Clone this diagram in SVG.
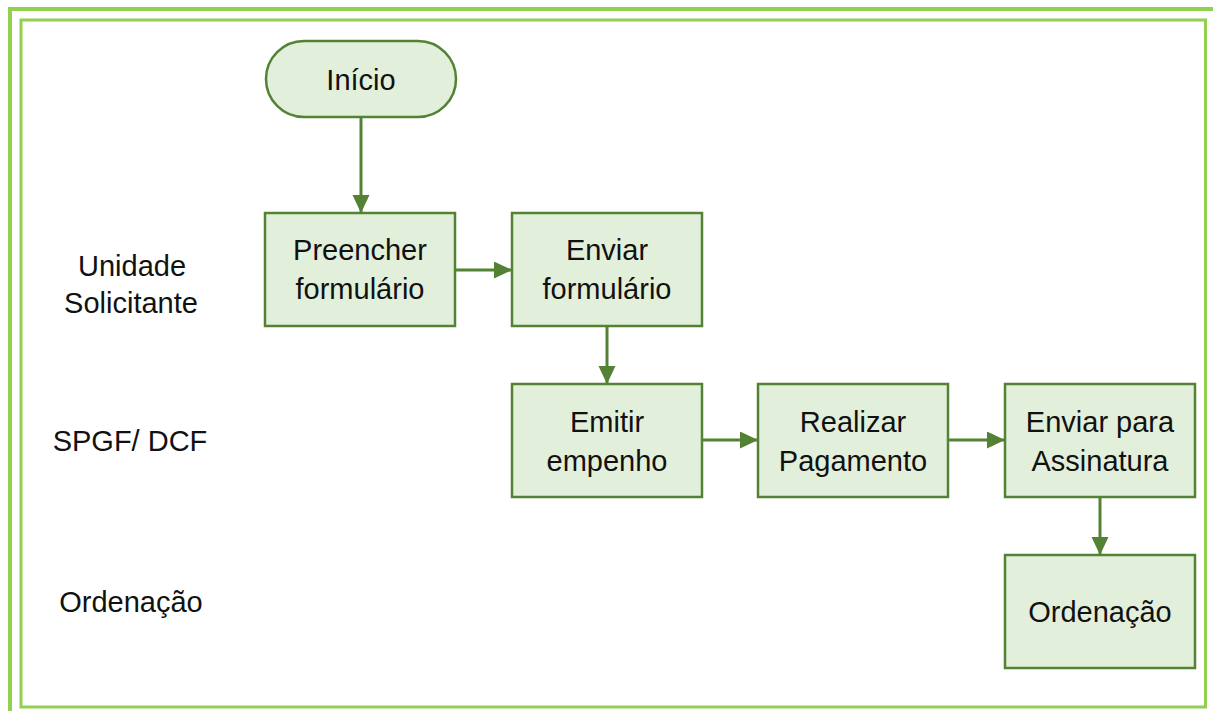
<svg xmlns="http://www.w3.org/2000/svg" width="1213" height="711" viewBox="0 0 1213 711">
<style>
.frame{fill:none;stroke:#92d050}
.node{fill:#e2efda;stroke:#548235;stroke-width:2.5}
.lbl{font-family:"Liberation Sans",Arial,sans-serif;font-size:29px;fill:#111;text-anchor:middle}
.conn{stroke:#548235;stroke-width:3;fill:none}
</style>
<defs>
<marker id="ah" markerUnits="userSpaceOnUse" markerWidth="20" markerHeight="18" refX="18" refY="8.5" orient="auto">
<path d="M0,0 L18,8.5 L0,17 Z" fill="#548235"/>
</marker>
</defs>
<rect width="1213" height="711" fill="#fff"/>
<rect class="frame" x="10" y="9" width="1210" height="710" stroke-width="4"/>
<rect class="frame" x="21" y="20" width="1184.5" height="687" stroke-width="3"/>

<g id="lane-labels">
<text class="lbl" x="132" y="276">Unidade</text>
<text class="lbl" x="131" y="313">Solicitante</text>
<text class="lbl" x="130" y="451">SPGF/ DCF</text>
<text class="lbl" x="131" y="612">Ordenação</text>
</g>

<g id="connectors">
<line class="conn" x1="361" y1="117" x2="361" y2="213" marker-end="url(#ah)"/>
<line class="conn" x1="455" y1="270" x2="512" y2="270" marker-end="url(#ah)"/>
<line class="conn" x1="607" y1="326" x2="607" y2="384" marker-end="url(#ah)"/>
<line class="conn" x1="702" y1="440" x2="758" y2="440" marker-end="url(#ah)"/>
<line class="conn" x1="948" y1="440" x2="1005" y2="440" marker-end="url(#ah)"/>
<line class="conn" x1="1100" y1="497" x2="1100" y2="555" marker-end="url(#ah)"/>
</g>

<g id="inicio">
<rect class="node" x="266" y="41" width="190" height="76" rx="38" ry="38"/>
<text class="lbl" x="361" y="90">Início</text>
</g>
<g id="preencher">
<rect class="node" x="265" y="213" width="190" height="113"/>
<text class="lbl" x="360" y="260">Preencher</text>
<text class="lbl" x="360" y="299">formulário</text>
</g>
<g id="enviar-formulario">
<rect class="node" x="512" y="213" width="190" height="113"/>
<text class="lbl" x="607" y="260">Enviar</text>
<text class="lbl" x="607" y="299">formulário</text>
</g>
<g id="emitir">
<rect class="node" x="512" y="384" width="190" height="113"/>
<text class="lbl" x="607" y="432">Emitir</text>
<text class="lbl" x="607" y="471">empenho</text>
</g>
<g id="realizar">
<rect class="node" x="758" y="384" width="190" height="113"/>
<text class="lbl" x="853" y="432">Realizar</text>
<text class="lbl" x="853" y="471">Pagamento</text>
</g>
<g id="assinatura">
<rect class="node" x="1005" y="384" width="190" height="113"/>
<text class="lbl" x="1100" y="432">Enviar para</text>
<text class="lbl" x="1100" y="471">Assinatura</text>
</g>
<g id="ordenacao">
<rect class="node" x="1005" y="555" width="190" height="113"/>
<text class="lbl" x="1100" y="622">Ordenação</text>
</g>
</svg>
